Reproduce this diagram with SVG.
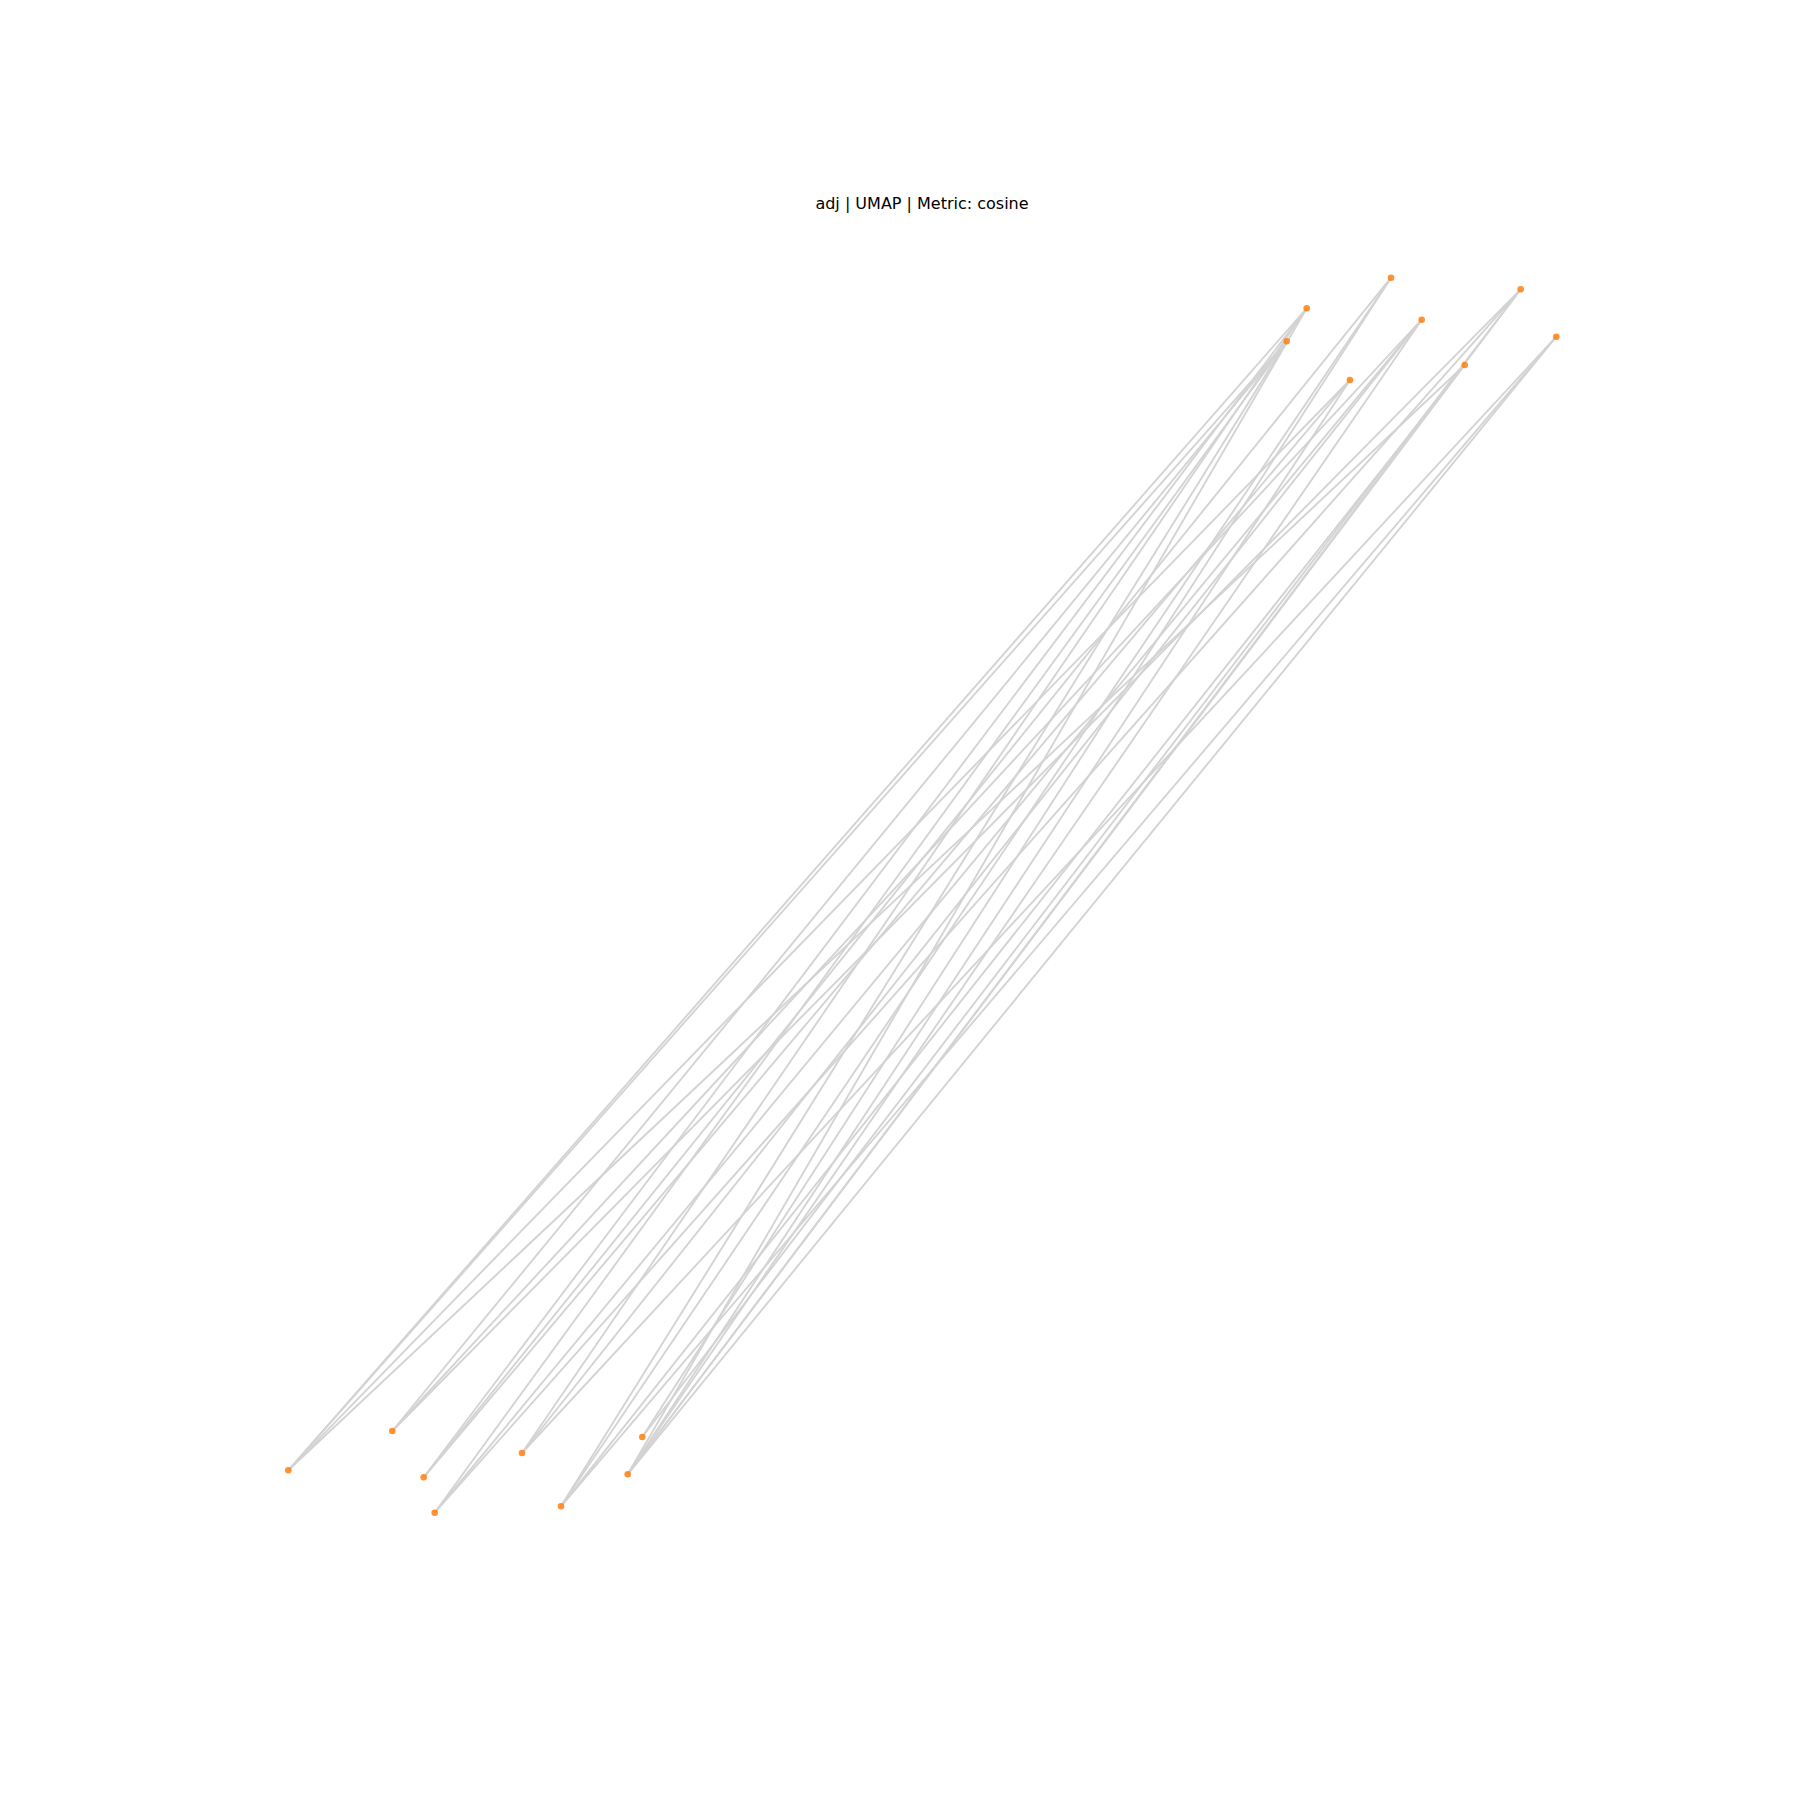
<svg xmlns="http://www.w3.org/2000/svg" width="1800" height="1800" viewBox="0 0 1800 1800">
<style>
.e{stroke:#d3d3d3;stroke-width:1.9;fill:none}
.n{fill:#ff7f0e;fill-opacity:0.85}
.t{font-family:"DejaVu Sans",sans-serif;font-size:16px;fill:#000;text-anchor:middle}
</style>
<rect width="1800" height="1800" fill="#fff"/>
<text class="t" x="922" y="209">adj | UMAP | Metric: cosine</text>
<g id="edges">
<line class="e" x1="288.3" y1="1470.3" x2="1306.7" y2="308.3"/>
<line class="e" x1="288.3" y1="1470.3" x2="1286.7" y2="341.3"/>
<line class="e" x1="288.3" y1="1470.3" x2="1350" y2="380"/>
<line class="e" x1="288.3" y1="1470.3" x2="1464.7" y2="365"/>
<line class="e" x1="392.3" y1="1431" x2="1286.7" y2="341.3"/>
<line class="e" x1="392.3" y1="1431" x2="1421.7" y2="319.7"/>
<line class="e" x1="392.3" y1="1431" x2="1520.7" y2="289.3"/>
<line class="e" x1="423.7" y1="1477.3" x2="1306.7" y2="308.3"/>
<line class="e" x1="423.7" y1="1477.3" x2="1391" y2="277.7"/>
<line class="e" x1="423.7" y1="1477.3" x2="1350" y2="380"/>
<line class="e" x1="434.7" y1="1512.7" x2="1286.7" y2="341.3"/>
<line class="e" x1="434.7" y1="1512.7" x2="1421.7" y2="319.7"/>
<line class="e" x1="434.7" y1="1512.7" x2="1520.7" y2="289.3"/>
<line class="e" x1="522" y1="1453" x2="1306.7" y2="308.3"/>
<line class="e" x1="522" y1="1453" x2="1421.7" y2="319.7"/>
<line class="e" x1="522" y1="1453" x2="1556.3" y2="336.7"/>
<line class="e" x1="561" y1="1506.3" x2="1286.7" y2="341.3"/>
<line class="e" x1="561" y1="1506.3" x2="1391" y2="277.7"/>
<line class="e" x1="561" y1="1506.3" x2="1464.7" y2="365"/>
<line class="e" x1="561" y1="1506.3" x2="1556.3" y2="336.7"/>
<line class="e" x1="642.3" y1="1437" x2="1391" y2="277.7"/>
<line class="e" x1="642.3" y1="1437" x2="1520.7" y2="289.3"/>
<line class="e" x1="627.7" y1="1474.3" x2="1306.7" y2="308.3"/>
<line class="e" x1="627.7" y1="1474.3" x2="1421.7" y2="319.7"/>
<line class="e" x1="627.7" y1="1474.3" x2="1350" y2="380"/>
<line class="e" x1="627.7" y1="1474.3" x2="1464.7" y2="365"/>
<line class="e" x1="627.7" y1="1474.3" x2="1520.7" y2="289.3"/>
<line class="e" x1="627.7" y1="1474.3" x2="1556.3" y2="336.7"/>
</g>
<g id="nA"><circle class="n" cx="1306.7" cy="308.3" r="3.3"/></g>
<g id="nB"><circle class="n" cx="1286.7" cy="341.3" r="3.3"/></g>
<g id="nC"><circle class="n" cx="1391" cy="277.7" r="3.3"/></g>
<g id="nD"><circle class="n" cx="1421.7" cy="319.7" r="3.3"/></g>
<g id="nE"><circle class="n" cx="1350" cy="380" r="3.3"/></g>
<g id="nF"><circle class="n" cx="1520.7" cy="289.3" r="3.3"/></g>
<g id="nG"><circle class="n" cx="1464.7" cy="365" r="3.3"/></g>
<g id="nH"><circle class="n" cx="1556.3" cy="336.7" r="3.3"/></g>
<g id="na"><circle class="n" cx="288.3" cy="1470.3" r="3.3"/></g>
<g id="nb"><circle class="n" cx="392.3" cy="1431" r="3.3"/></g>
<g id="nc"><circle class="n" cx="423.7" cy="1477.3" r="3.3"/></g>
<g id="nd"><circle class="n" cx="434.7" cy="1512.7" r="3.3"/></g>
<g id="ne"><circle class="n" cx="522" cy="1453" r="3.3"/></g>
<g id="nf"><circle class="n" cx="561" cy="1506.3" r="3.3"/></g>
<g id="ng"><circle class="n" cx="642.3" cy="1437" r="3.3"/></g>
<g id="nh"><circle class="n" cx="627.7" cy="1474.3" r="3.3"/></g>
</svg>
